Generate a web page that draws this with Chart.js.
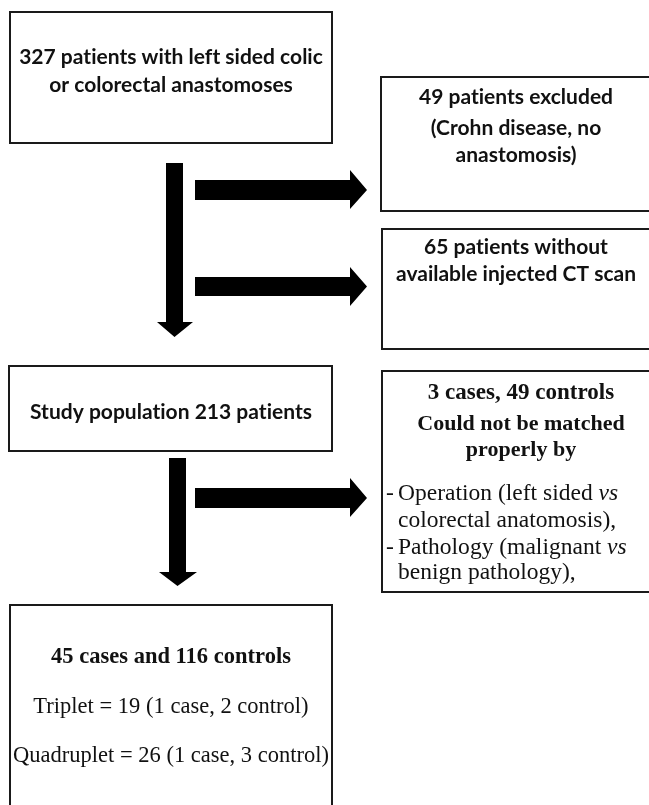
<!DOCTYPE html>
<html>
<head>
<meta charset="utf-8">
<script src="https://cdn.jsdelivr.net/npm/chart.js@4.4.1/dist/chart.umd.min.js"></script>
<style>
  html, body { margin: 0; padding: 0; background: #ffffff; }
  #wrap { width: 649px; height: 805px; }
</style>
</head>
<body>
<div id="wrap"><canvas id="c" width="649" height="805"></canvas></div>
<script>
// ---- flowchart content (text / counts) ----
const box1Lines = ["327 patients with left sided colic", "or colorectal anastomoses"];
const box2Lines = ["49 patients excluded", "(Crohn disease, no", "anastomosis)"];
const box3Lines = ["65 patients without", "available injected CT scan"];
const box4Lines = ["Study population 213 patients"];
const box5Head  = ["3 cases, 49 controls", "Could not be matched", "properly by"];
const box5Items = [
  ["Operation (left sided *vs*", "colorectal anatomosis),"],
  ["Pathology (malignant *vs*", "benign pathology),"]
];
const box6Head  = ["45 cases and 116 controls"];
const box6Lines = ["Triplet = 19 (1 case, 2 control)", "Quadruplet = 26 (1 case, 3 control)"];

// ---- layout (in axis units: x 0..649, y 0..805 top-down) ----
const boxes = [
  {x0: 10,  y0: 12,  x1: 332, y1: 143},
  {x0: 381, y0: 77,  x1: 652, y1: 211},
  {x0: 382, y0: 229, x1: 652, y1: 349},
  {x0: 9,   y0: 366, x1: 332, y1: 451},
  {x0: 382, y0: 371, x1: 652, y1: 592},
  {x0: 10,  y0: 605, x1: 332, y1: 812}
];
const downArrows = [
  {sx0: 166, sx1: 183, top: 163, neck: 322, hx0: 157, hx1: 193, tip: 337},
  {sx0: 169, sx1: 186, top: 458, neck: 572, hx0: 159, hx1: 197, tip: 586}
];
const rightArrows = [
  {x0: 195, neck: 350, tip: 367, sy0: 180, sy1: 200, hy0: 170, hy1: 209},
  {x0: 195, neck: 350, tip: 367, sy0: 277, sy1: 296, hy0: 267, hy1: 306},
  {x0: 195, neck: 350, tip: 367, sy0: 488, sy1: 508, hy0: 478, hy1: 517}
];

const SANS_B = "bold 21px Lato";
const SERIF_B1 = "bold 23px 'Liberation Serif'";
const SERIF_B2 = "bold 22px 'Liberation Serif'";
const SERIF_B6 = "bold 22.5px 'Liberation Serif'";
const SERIF_6 = "22.5px 'Liberation Serif'";
const SERIF = "23.5px 'Liberation Serif'";
const SERIF_I = "italic 23.5px 'Liberation Serif'";

const flowPlugin = {
  id: 'flow',
  afterDraw(chart) {
    const ctx = chart.ctx;
    const sx = chart.scales.x, sy = chart.scales.y;
    const X = v => sx.getPixelForValue(v);
    const Y = v => sy.getPixelForValue(v);
    ctx.save();
    // boxes
    ctx.strokeStyle = '#1a1a1a';
    ctx.lineWidth = 2;
    boxes.forEach(b => {
      ctx.strokeRect(X(b.x0), Y(b.y0), X(b.x1) - X(b.x0), Y(b.y1) - Y(b.y0));
    });
    // arrows
    ctx.fillStyle = '#000';
    downArrows.forEach(a => {
      ctx.beginPath();
      ctx.moveTo(X(a.sx0), Y(a.top));
      ctx.lineTo(X(a.sx1), Y(a.top));
      ctx.lineTo(X(a.sx1), Y(a.neck));
      ctx.lineTo(X(a.hx1), Y(a.neck));
      ctx.lineTo(X((a.sx0 + a.sx1) / 2), Y(a.tip));
      ctx.lineTo(X(a.hx0), Y(a.neck));
      ctx.lineTo(X(a.sx0), Y(a.neck));
      ctx.closePath();
      ctx.fill();
    });
    rightArrows.forEach(a => {
      ctx.beginPath();
      ctx.moveTo(X(a.x0), Y(a.sy0));
      ctx.lineTo(X(a.neck), Y(a.sy0));
      ctx.lineTo(X(a.neck), Y(a.hy0));
      ctx.lineTo(X(a.tip), Y((a.sy0 + a.sy1) / 2));
      ctx.lineTo(X(a.neck), Y(a.hy1));
      ctx.lineTo(X(a.neck), Y(a.sy1));
      ctx.lineTo(X(a.x0), Y(a.sy1));
      ctx.closePath();
      ctx.fill();
    });
    // text
    ctx.fillStyle = '#111';
    ctx.textBaseline = 'middle';
    if ('letterSpacing' in ctx) ctx.letterSpacing = '0.01px'; // avoid ligatures
    const centered = (lines, cx, ys, font) => {
      ctx.font = font;
      ctx.textAlign = 'center';
      lines.forEach((t, i) => ctx.fillText(t, X(cx), Y(ys[i])));
    };
    centered(box1Lines, 171, [57, 85], SANS_B);
    centered(box2Lines, 516, [97, 128, 155], SANS_B);
    centered(box3Lines, 516, [247, 274], SANS_B);
    centered(box4Lines, 171, [412], SANS_B);
    centered([box5Head[0]], 521, [393], SERIF_B1);
    centered(box5Head.slice(1), 521, [424, 450], SERIF_B2);
    // bullet items with italic segments
    const drawRich = (str, x, y) => {
      ctx.textAlign = 'left';
      const parts = str.split('*');
      let cx = X(x);
      parts.forEach((p, i) => {
        ctx.font = (i % 2 === 1) ? SERIF_I : SERIF;
        ctx.fillText(p, cx, Y(y));
        cx += ctx.measureText(p).width;
      });
    };
    const itemYs = [[494, 521], [548, 573]];
    box5Items.forEach((item, k) => {
      ctx.font = SERIF;
      ctx.textAlign = 'left';
      ctx.fillText('-', X(386), Y(itemYs[k][0]));
      item.forEach((line, j) => drawRich(line, 398, itemYs[k][j]));
    });
    centered(box6Head, 171, [657], SERIF_B6);
    centered(box6Lines, 171, [707, 756], SERIF_6);
    ctx.restore();
  }
};

new Chart(document.getElementById('c'), {
  type: 'scatter',
  data: { datasets: [{ data: [], pointRadius: 0 }] },
  options: {
    responsive: false,
    animation: false,
    layout: { padding: 0 },
    plugins: { legend: { display: false }, tooltip: { enabled: false } },
    scales: {
      x: { type: 'linear', min: 0, max: 649, display: false },
      y: { type: 'linear', min: 0, max: 805, reverse: true, display: false }
    }
  },
  plugins: [flowPlugin]
});
</script>
</body>
</html>
